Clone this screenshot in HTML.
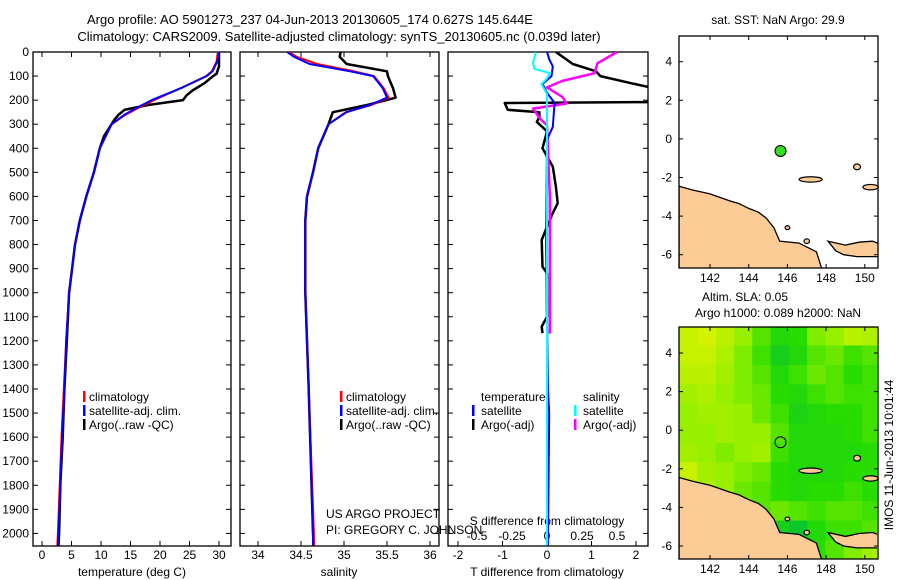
<!DOCTYPE html>
<html><head><meta charset="utf-8">
<style>
html,body{margin:0;padding:0;background:#fff;}
svg{display:block;font-family:"Liberation Sans",sans-serif;}
text{fill:#000;}
</style></head>
<body>
<svg id="fig" width="900" height="580" viewBox="0 0 900 580" xmlns="http://www.w3.org/2000/svg">
<defs>
<clipPath id="c1"><rect x="33" y="52" width="198" height="494"/></clipPath>
<clipPath id="c2"><rect x="240" y="52" width="199" height="494"/></clipPath>
<clipPath id="c3"><rect x="448" y="52" width="200" height="494"/></clipPath>
<clipPath id="cm1"><rect x="679" y="36" width="199" height="232"/></clipPath>
<clipPath id="cm2"><rect x="679" y="327" width="198" height="232"/></clipPath>
</defs>
<text x="310" y="24" font-size="13" text-anchor="middle">Argo profile: AO 5901273_237 04-Jun-2013 20130605_174 0.627S 145.644E</text>
<text x="339" y="41" font-size="13" text-anchor="middle">Climatology: CARS2009. Satellite-adjusted climatology: synTS_20130605.nc (0.039d later)</text>
<g id="g1"></g>
<g id="g2"></g>
<g id="g3"></g>
<g id="m1"></g>
<g id="m2"></g>
<text transform="translate(893,455) rotate(-90)" font-size="12" text-anchor="middle">IMOS 11-Jun-2013 10:01:44</text>
</svg>
<script>
// ---- data ----
const tDepth = [0,10,60,90,100,130,160,180,200,210,220,240,260,280,300,350,400,500,600,700,800,900,1000,1200,1400,1600,1800,2000,2050];
const tArgo  = [30,30,30,29.6,29,27.5,25.5,24.5,23.9,21,18,14,13,12.3,11.8,10.5,9.8,8.8,7.5,6.4,5.6,5.1,4.6,4.2,3.8,3.5,3.1,2.9,2.8];
const cDepth = [0,40,80,100,150,200,230,260,300,400,500,600,700,800,900,1000,1200,1400,1600,1800,2000,2050];
const tClim  = [29.8,29.6,28.8,27.8,23.5,19.0,16.5,14.2,11.8,9.8,8.8,7.5,6.4,5.6,5.1,4.6,4.1,3.7,3.3,3.0,2.7,2.6];
const tSat   = [30.0,29.7,28.9,27.9,23.6,18.6,16.2,14.0,11.8,9.8,8.8,7.5,6.4,5.6,5.1,4.6,4.1,3.8,3.4,3.1,2.8,2.7];
const sDepth = [0,20,50,80,100,150,190,220,250,300,400,500,600,700,1000,1400,2000,2050];
const sArgo  = [34.96,34.95,35.03,35.5,35.51,35.57,35.6,35.27,34.87,34.82,34.7,34.64,34.57,34.55,34.55,34.59,34.64,34.65];
const sClim  = [34.36,34.45,34.69,35.12,35.35,35.46,35.52,35.32,35.02,34.82,34.7,34.64,34.57,34.55,34.55,34.59,34.65,34.65];
const sSat   = [34.34,34.42,34.6,35.07,35.34,35.45,35.5,35.3,35.03,34.82,34.7,34.64,34.57,34.55,34.55,34.59,34.64,34.64];
const dDepthA = [0,50,80,100,130,150,170,208,212,240,250,270,290,330,400,476,560,628,669,726,781,892,919,1100,1141,1168];
const dTArgo  = [0.2,0.58,1.1,1.2,1.9,2.4,2.4,2.25,-0.95,-0.88,-0.17,-0.17,-0.23,0,-0.1,0.13,0.2,0.24,0.13,0,-0.12,-0.1,0,0,-0.12,-0.1];
const dDepthS = [0,30,60,100,133,170,212,260,311,365,800,1400,1500,2050];
const dTSat   = [0,0.05,0.13,0.1,-0.1,0,0.17,0.15,0.13,0,-0.02,0.02,0.05,0.02];
const dSDepth = [0,47,70,88,110,133,175,400,1000,2050];
const dSSat   = [-0.08,-0.1,-0.09,0.02,0.0,-0.04,0,0,0,0];
const dSDepthA= [0,47,88,120,147,187,214,235,277,304,600,1000,1170];
const dSArgo  = [0.5,0.36,0.34,0.11,0,0.11,0.14,-0.1,-0.05,0,0.02,0.02,0.02];
const depthTicks = [0,100,200,300,400,500,600,700,800,900,1000,1100,1200,1300,1400,1500,1600,1700,1800,1900,2000];
const tempTicks = [0,5,10,15,20,25,30];
const salTicks = [34,34.5,35,35.5,36];
const salTickLabels = ["34","34.5","35","35.5","36"];
const dTTicks = [-2,-1,0,1,2];
const dSTicks = [-0.5,-0.25,0,0.25,0.5];
const dSTickLabels = ["-0.5","-0.25","0","0.25","0.5"];
const lonTicks = [142,144,146,148,150];
const latTicks = [4,2,0,-2,-4,-6];
const argoLon = 145.644, argoLat = -0.627;
const slaGrid = [
 [0.8,0.85,0.75,0.6,0.45,0.3,0.35,0.55,0.6,0.75,0.7],
 [0.8,0.8,0.7,0.55,0.4,0.2,0.3,0.45,0.5,0.4,0.45],
 [0.75,0.75,0.65,0.55,0.45,0.3,0.4,0.5,0.45,0.35,0.4],
 [0.65,0.7,0.6,0.55,0.5,0.35,0.3,0.4,0.45,0.4,0.4],
 [0.6,0.65,0.65,0.6,0.5,0.4,0.25,0.3,0.35,0.35,0.4],
 [0.6,0.6,0.65,0.6,0.6,0.45,0.3,0.3,0.3,0.35,0.4],
 [0.65,0.6,0.55,0.6,0.65,0.4,0.3,0.3,0.3,0.3,0.35],
 [0.8,0.65,0.6,0.55,0.5,0.35,0.3,0.3,0.3,0.35,0.35],
 [0.9,0.7,0.6,0.5,0.45,0.35,0.3,0.35,0.35,0.4,0.35],
 [0.7,0.6,0.5,0.45,0.45,0.5,0.45,0.4,0.45,0.45,0.4],
 [0.6,0.5,0.45,0.4,0.35,0.2,0.1,0.3,0.4,0.4,0.45],
 [0.6,0.5,0.45,0.4,0.35,0.15,0.1,0.35,0.45,0.55,0.65]];

// ---- scales ----
const NS="http://www.w3.org/2000/svg";
const yD = d => 52 + d*0.2407;
const xT = v => 42 + v*5.9;
const xS = v => 258 + (v-34)*86;
const xdT = v => 547 + v*44.5;
const xdS = v => 547 + v*140;
const lonX = l => 710 + (l-142)*19.35;
const LATS = 19.3;
const latY1 = l => 61.7 - (l-4)*LATS;
const latY2 = l => 353 - (l-4)*LATS;

function mk(parent, tag, attrs){const e=document.createElementNS(NS,tag);for(const k in attrs)e.setAttribute(k,attrs[k]);parent.appendChild(e);return e;}
function txt(parent,x,y,s,anchor,size){const t=mk(parent,'text',{x:x,y:y,'font-size':size||12,'text-anchor':anchor||'start'});t.textContent=s;return t;}
function line(parent, xs, ys, fx, fy, color, w, clip){
  const pts = xs.map((v,i)=>fx(v).toFixed(1)+','+fy(ys[i]).toFixed(1)).join(' ');
  return mk(parent,'polyline',{points:pts,fill:'none',stroke:color,'stroke-width':w,'clip-path':'url(#'+clip+')','stroke-linejoin':'round'});
}
function box(parent,x0,y0,x1,y1){mk(parent,'rect',{x:x0,y:y0,width:x1-x0,height:y1-y0,fill:'none',stroke:'#000','stroke-width':1.3});}

const g1=document.getElementById('g1'), g2=document.getElementById('g2'), g3=document.getElementById('g3');
depthTicks.forEach(d=>{
  const l=txt(g1,29,yD(d)+4,String(d),'end');
  
  
  [[33,231],[240,439],[448,648]].forEach(([a,b])=>{
    mk(g1,'line',{x1:a,y1:yD(d),x2:a+5,y2:yD(d),stroke:'#000'});
    mk(g1,'line',{x1:b,y1:yD(d),x2:b-5,y2:yD(d),stroke:'#000'});
  });
});
// panel 1
box(g1,33,52,231,546);
tempTicks.forEach(v=>{mk(g1,'line',{x1:xT(v),y1:52,x2:xT(v),y2:57,stroke:'#000'});mk(g1,'line',{x1:xT(v),y1:546,x2:xT(v),y2:541,stroke:'#000'});
  const l=txt(g1,xT(v),559,String(v),'middle');
  
  });
let e;
e=line(g1,tArgo,tDepth,xT,yD,'#000',2.5,'c1');  
e=line(g1,tClim,cDepth,xT,yD,'#f00',2,'c1');  
e=line(g1,tSat,cDepth,xT,yD,'#00f',2,'c1');  
txt(g1,132,576,'temperature (deg C)','middle');
// panel 2
box(g2,240,52,439,546);
salTicks.forEach((v,i)=>{mk(g2,'line',{x1:xS(v),y1:52,x2:xS(v),y2:57,stroke:'#000'});mk(g2,'line',{x1:xS(v),y1:546,x2:xS(v),y2:541,stroke:'#000'});
  const l=txt(g2,xS(v),559,salTickLabels[i],'middle');
  
  });
e=line(g2,sArgo,sDepth,xS,yD,'#000',2.5,'c2');  
e=line(g2,sClim,sDepth,xS,yD,'#f00',2,'c2');  
e=line(g2,sSat,sDepth,xS,yD,'#00f',2,'c2');  
txt(g2,339,576,'salinity','middle');
txt(g2,326,518,'US ARGO PROJECT'); txt(g2,326,534,'PI: GREGORY C. JOHNSON');
[[g1,83,89],[g2,340,346]].forEach(([g,bx,tx])=>{
  [['#f00','climatology'],['#00f','satellite-adj. clim.'],['#000','Argo(..raw -QC)']].forEach(([c,s],i)=>{
    mk(g,'rect',{x:bx,y:391+i*14,width:2.5,height:11,fill:c});
    txt(g,tx,401+i*14,s);
  });
});
// panel 3
box(g3,448,52,648,546);
dTTicks.forEach(v=>{mk(g3,'line',{x1:xdT(v),y1:546,x2:xdT(v),y2:541,stroke:'#000'});
  const l=txt(g3,xdT(v),559,String(v),'middle');
  
  });
dSTicks.forEach((v,i)=>{
  const l=txt(g3,xdS(v),540,dSTickLabels[i],'middle');
  
  });
txt(g3,547,525,'S difference from climatology','middle');
txt(g3,547,576,'T difference from climatology','middle');
e=line(g3,dTArgo,dDepthA,xdT,yD,'#000',2.5,'c3');  
e=line(g3,dSArgo,dSDepthA,xdS,yD,'#f0f',2.5,'c3');  
e=line(g3,dTSat,dDepthS,xdT,yD,'#00f',2,'c3');  
e=line(g3,dSSat,dSDepth,xdS,yD,'#0ff',2,'c3');  
txt(g3,481,401,'temperature'); txt(g3,583,401,'salinity');
[['#00f','satellite',472,481],['#000','Argo(-adj)',472,481],['#0ff','satellite',574,583],['#f0f','Argo(-adj)',574,583]].forEach(([c,s,bx,tx],i)=>{
  const r=i%2;
  mk(g3,'rect',{x:bx,y:405+r*14,width:2.5,height:11,fill:c});
  txt(g3,tx,415+r*14,s);
});

// ---- maps ----
function colorOf(v){
  const stops=[[0,[0,190,60]],[0.35,[40,220,0]],[0.6,[150,240,0]],[0.85,[210,242,0]],[1,[240,210,0]]];
  for(let i=1;i<stops.length;i++){ if(v<=stops[i][0]){const a=stops[i-1],b=stops[i];const t=(v-a[0])/(b[0]-a[0]);
    return 'rgb('+a[1].map((c,k)=>Math.round(c+(b[1][k]-c)*t)).join(',')+')';}}
  return 'rgb(240,210,0)';
}
function drawMap(g, latY, y0, y1, clip, heat){
  if(heat){
    slaGrid.forEach((row,r)=>row.forEach((v,c)=>{
      const lon0=140.4+c*(10.4/11), lat0=5.4-r*(12.1/12);
      const rc=mk(g,'rect',{x:lonX(lon0),y:latY(lat0),width:10.4/11*19.35+0.6,height:12.1/12*LATS+0.6,fill:colorOf(v),'clip-path':'url(#'+clip+')'});
      
      
    }));
  }
  const L=(lon,lat)=>lonX(lon).toFixed(1)+','+latY(lat).toFixed(1);
  const coast=[[140.4,-2.45],[141.1,-2.65],[142,-2.85],[143,-3.2],[143.5,-3.35],[144,-3.6],[144.5,-3.8],[144.9,-4.1],[145.3,-4.6],[145.6,-5.3],[146.6,-5.4],[147.5,-5.85],[147.8,-6.8],[140.4,-6.8]];
  mk(g,'polygon',{points:coast.map(p=>L(p[0],p[1])).join(' '),fill:'#fccb96',stroke:'#000','stroke-width':1.3,'clip-path':'url(#'+clip+')'});
  const nb=[[148.1,-5.3],[149,-5.5],[149.7,-5.35],[150.4,-5.3],[150.8,-5.45],[150.8,-6.1],[149.6,-6.1],[148.9,-6.0],[148.5,-5.8]];
  mk(g,'polygon',{points:nb.map(p=>L(p[0],p[1])).join(' '),fill:'#fccb96',stroke:'#000','stroke-width':1.3,'clip-path':'url(#'+clip+')'});
  [[147.2,-2.1,0.6,0.14],[150.3,-2.5,0.4,0.14],[149.6,-1.45,0.18,0.15],[146.0,-4.6,0.12,0.1],[147.0,-5.3,0.14,0.12]].forEach(([lo,la,rx,ry])=>{
    mk(g,'ellipse',{cx:lonX(lo),cy:latY(la),rx:rx*19.35,ry:ry*LATS,fill:'#fccb96',stroke:'#000','stroke-width':1.2});
  });
  const pt=mk(g,'circle',{cx:lonX(argoLon),cy:latY(argoLat),r:5.5,fill:heat?'none':'#33dd22',stroke:'#000','stroke-width':1});
  
  
  mk(g,'rect',{x:679,y:y0,width:199,height:y1-y0,fill:'none',stroke:'#000','stroke-width':1.3});
  lonTicks.forEach(v=>{mk(g,'line',{x1:lonX(v),y1:y0,x2:lonX(v),y2:y0+4,stroke:'#000'});mk(g,'line',{x1:lonX(v),y1:y1,x2:lonX(v),y2:y1-4,stroke:'#000'});
    const l=txt(g,lonX(v),y1+14,String(v),'middle');
    
    });
  latTicks.forEach(v=>{mk(g,'line',{x1:679,y1:latY(v),x2:683,y2:latY(v),stroke:'#000'});mk(g,'line',{x1:878,y1:latY(v),x2:874,y2:latY(v),stroke:'#000'});
    const l=txt(g,672,latY(v)+4,String(v),'end');
    
    });
}
const m1=document.getElementById('m1'), m2=document.getElementById('m2');
drawMap(m1,latY1,36,268,'cm1',false);
drawMap(m2,latY2,327,559,'cm2',true);
txt(m1,778,24,'sat. SST: NaN Argo: 29.9','middle');
txt(m2,745,301,'Altim. SLA: 0.05','middle');
txt(m2,778,317,'Argo h1000: 0.089 h2000: NaN','middle');
</script>
</body></html>
